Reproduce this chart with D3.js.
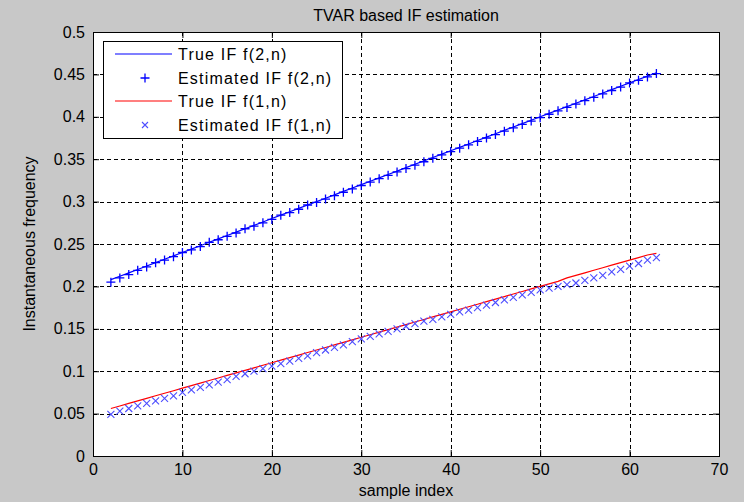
<!DOCTYPE html>
<html lang="en">
<head>
  <meta charset="UTF-8">
  <title>TVAR based IF estimation</title>
  <script src="https://d3js.org/d3.v7.min.js"></script>
  <style>
    body { margin: 0; background: #c8c8c8; }
    svg { display: block; font-family: "Liberation Sans", Arial, sans-serif; }
    .tick text { font-size: 16px; fill: #000; }
    .grid line { stroke: #000; stroke-dasharray: 4,3; stroke-width: 1; }
  </style>
</head>
<body>
  <svg id="chart"></svg>

  <script>
    // sample index n
    const sampleIdx = [2,3,4,5,6,7,8,9,10,11,12,13,14,15,16,17,18,19,20,21,22,23,24,25,26,27,28,29,30,31,32,
      33,34,35,36,37,38,39,40,41,42,43,44,45,46,47,48,49,50,51,52,53,54,55,56,57,58,59,60,61,62,63];

    // true IF f(2,n)
    const trueF2 = [0.208,0.212,0.216,0.220,0.224,0.228,0.232,0.236,0.240,0.244,0.248,0.252,0.256,0.260,0.264,
      0.268,0.272,0.276,0.280,0.284,0.288,0.292,0.296,0.300,0.304,0.308,0.312,0.316,0.320,0.324,0.328,0.332,
      0.336,0.340,0.344,0.348,0.352,0.356,0.360,0.364,0.368,0.372,0.376,0.380,0.384,0.388,0.392,0.396,0.400,
      0.404,0.408,0.412,0.416,0.420,0.424,0.428,0.432,0.436,0.440,0.444,0.448,0.452];

    // estimated IF f(2,n)
    const estF2 = [0.205,0.210,0.214,0.219,0.223,0.228,0.231,0.235,0.240,0.243,0.247,0.252,0.255,0.259,0.263,
      0.268,0.271,0.275,0.279,0.284,0.287,0.291,0.296,0.299,0.303,0.307,0.311,0.315,0.319,0.323,0.327,0.331,
      0.335,0.339,0.343,0.347,0.351,0.355,0.359,0.363,0.367,0.371,0.375,0.379,0.383,0.387,0.391,0.395,0.399,
      0.403,0.407,0.411,0.415,0.419,0.423,0.427,0.431,0.435,0.440,0.443,0.447,0.451];

    // true IF f(1,n)
    const trueF1 = [0.056,0.059,0.062,0.065,0.068,0.071,0.074,0.077,0.080,0.083,0.086,0.089,0.092,0.095,0.098,
      0.101,0.104,0.107,0.110,0.113,0.116,0.119,0.122,0.125,0.128,0.131,0.134,0.137,0.140,0.143,0.146,0.149,
      0.152,0.155,0.158,0.161,0.164,0.167,0.170,0.173,0.176,0.179,0.182,0.185,0.188,0.191,0.194,0.197,0.200,
      0.203,0.206,0.210,0.213,0.216,0.219,0.222,0.225,0.228,0.231,0.234,0.237,0.239];

    // estimated IF f(1,n)
    const estF1 = [0.049,0.053,0.056,0.059,0.062,0.065,0.068,0.071,0.075,0.078,0.081,0.084,0.087,0.090,0.094,
      0.097,0.100,0.103,0.106,0.109,0.112,0.115,0.118,0.122,0.125,0.128,0.131,0.135,0.138,0.141,0.144,0.147,
      0.150,0.153,0.156,0.159,0.161,0.164,0.167,0.170,0.172,0.175,0.178,0.181,0.184,0.187,0.190,0.193,0.196,
      0.198,0.200,0.202,0.204,0.207,0.210,0.213,0.217,0.220,0.224,0.227,0.231,0.234];

    const xTicks = [0, 10, 20, 30, 40, 50, 60, 70];
    const xTickLabels = ["0", "10", "20", "30", "40", "50", "60", "70"];
    const yTicks = [0, 0.05, 0.1, 0.15, 0.2, 0.25, 0.3, 0.35, 0.4, 0.45, 0.5];
    const yTickLabels = ["0", "0.05", "0.1", "0.15", "0.2", "0.25", "0.3", "0.35", "0.4", "0.45", "0.5"];

    const legendLabels = ["True IF f(2,n)", "Estimated IF f(2,n)", "True IF f(1,n)", "Estimated IF f(1,n)"];

    const W = 744, H = 502;
    const plot = {left: 93, right: 719, top: 32, bottom: 456};

    const svg = d3.select("#chart").attr("width", W).attr("height", H);

    svg.append("rect").attr("width", W).attr("height", H).attr("fill", "#c8c8c8");
    svg.append("rect")
      .attr("x", plot.left).attr("y", plot.top)
      .attr("width", plot.right - plot.left).attr("height", plot.bottom - plot.top)
      .attr("fill", "#fff");

    const x = d3.scaleLinear().domain([0, 70]).range([plot.left, plot.right]);
    const y = d3.scaleLinear().domain([0, 0.5]).range([plot.bottom, plot.top]);

    // dashed grid
    const grid = svg.append("g").attr("class", "grid");
    grid.selectAll(".gx").data(xTicks.slice(1, -1)).enter().append("line")
      .attr("x1", d => Math.round(x(d)) + 0.5).attr("x2", d => Math.round(x(d)) + 0.5)
      .attr("y1", plot.top).attr("y2", plot.bottom);
    grid.selectAll(".gy").data(yTicks.slice(1, -1)).enter().append("line")
      .attr("y1", d => Math.round(y(d)) + 0.5).attr("y2", d => Math.round(y(d)) + 0.5)
      .attr("x1", plot.left).attr("x2", plot.right);

    // axes, ticks pointing inward
    const tickLen = 6;
    const xAxis = svg.append("g")
      .attr("transform", `translate(0,${plot.bottom})`)
      .call(d3.axisBottom(x).tickValues(xTicks).tickSize(-tickLen).tickPadding(8)
        .tickFormat((d, i) => xTickLabels[i]));
    const xAxisTop = svg.append("g")
      .attr("transform", `translate(0,${plot.top})`)
      .call(d3.axisTop(x).tickValues(xTicks).tickSize(-tickLen).tickFormat(""));
    const yAxis = svg.append("g")
      .attr("transform", `translate(${plot.left},0)`)
      .call(d3.axisLeft(y).tickValues(yTicks).tickSize(-tickLen).tickPadding(8)
        .tickFormat((d, i) => yTickLabels[i]));
    const yAxisRight = svg.append("g")
      .attr("transform", `translate(${plot.right},0)`)
      .call(d3.axisRight(y).tickValues(yTicks).tickSize(-tickLen).tickFormat(""));

    [xAxis, xAxisTop, yAxis, yAxisRight].forEach(a => {
      a.select(".domain").remove();
      a.selectAll(".tick line").attr("stroke", "#000");
      a.selectAll("text").style("font-family", "'Liberation Sans', Arial, sans-serif");
    });

    // box
    svg.append("rect")
      .attr("x", plot.left + 0.5).attr("y", plot.top + 0.5)
      .attr("width", plot.right - plot.left).attr("height", plot.bottom - plot.top)
      .attr("fill", "none").attr("stroke", "#000");

    const pts = arr => sampleIdx.map((n, i) => ({n, v: arr[i]}));
    const line = d3.line().x(d => x(d.n)).y(d => y(d.v));

    const blue = "#0000ff", red = "#ff0000", lightBlue = "#4d4dff";

    function plusPath(s) { return `M${-s},0H${s}M0,${-s}V${s}`; }
    function crossPath(s) { return `M${-s},${-s}L${s},${s}M${-s},${s}L${s},${-s}`; }

    // f(2,n)
    svg.append("path").datum(pts(trueF2))
      .attr("d", line).attr("fill", "none").attr("stroke", blue).attr("stroke-width", 1.2);
    svg.append("g").selectAll("path").data(pts(estF2)).enter().append("path")
      .attr("transform", d => `translate(${x(d.n)},${y(d.v)})`)
      .attr("d", plusPath(4.5)).attr("stroke", blue).attr("stroke-width", 1.3).attr("fill", "none");

    // f(1,n)
    svg.append("path").datum(pts(trueF1))
      .attr("d", line).attr("fill", "none").attr("stroke", red).attr("stroke-width", 1.2);
    svg.append("g").selectAll("path").data(pts(estF1)).enter().append("path")
      .attr("transform", d => `translate(${x(d.n)},${y(d.v)})`)
      .attr("d", crossPath(3.5)).attr("stroke", lightBlue).attr("stroke-width", 1.1).attr("fill", "none");

    // title and axis labels
    svg.append("text").attr("x", (plot.left + plot.right) / 2).attr("y", 21)
      .attr("text-anchor", "middle").style("font-size", "16px").text("TVAR based IF estimation");
    svg.append("text").attr("x", (plot.left + plot.right) / 2).attr("y", 496)
      .attr("text-anchor", "middle").style("font-size", "16px").text("sample index");
    svg.append("text")
      .attr("transform", `translate(35,${(plot.top + plot.bottom) / 2}) rotate(-90)`)
      .attr("text-anchor", "middle").style("font-size", "16px").text("Instantaneous frequency");

    // legend
    const lg = svg.append("g");
    lg.append("rect").attr("x", 103.5).attr("y", 41.5).attr("width", 239).attr("height", 97)
      .attr("fill", "#fff").attr("stroke", "#000");
    const rowY = [54, 78, 101, 125];
    legendLabels.forEach((lab, i) => {
      const yy = rowY[i];
      if (i === 0 || i === 2) {
        lg.append("line").attr("x1", 115).attr("x2", 172).attr("y1", yy).attr("y2", yy)
          .attr("stroke", i === 0 ? blue : red).attr("stroke-width", 1.2);
      } else if (i === 1) {
        lg.append("path").attr("transform", `translate(145,${yy})`).attr("d", plusPath(4.5))
          .attr("stroke", blue).attr("stroke-width", 1.3);
      } else {
        lg.append("path").attr("transform", `translate(145,${yy})`).attr("d", crossPath(3))
          .attr("stroke", lightBlue).attr("stroke-width", 1.1);
      }
      lg.append("text").attr("x", 178).attr("y", yy + 6).style("font-size", "16px")
        .style("letter-spacing", "1.2px").text(lab);
    });
  </script>
</body>
</html>
